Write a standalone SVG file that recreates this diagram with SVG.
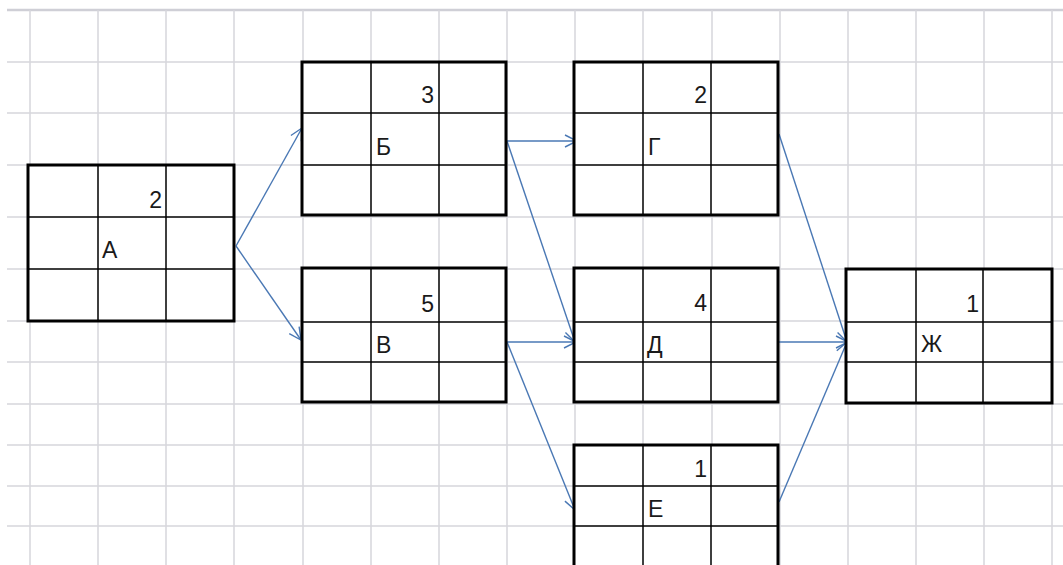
<svg xmlns="http://www.w3.org/2000/svg" width="1063" height="565" viewBox="0 0 1063 565">
<style>
.g{stroke:#d6d6dc;stroke-width:1.5;fill:none}
.box{fill:#fff;stroke:#000;stroke-width:3}
.in{stroke:#000;stroke-width:1.5;fill:none}
.t{font-family:"Liberation Sans",Arial,sans-serif;font-size:23px;fill:#1a1a1a}
.n{text-anchor:end}
.c{stroke:#4a78b4;stroke-width:1.4;fill:none;marker-end:url(#ar)}
</style>
<defs>
<marker id="ar" viewBox="0 0 14 14" refX="13" refY="7" markerWidth="14" markerHeight="14" markerUnits="userSpaceOnUse" orient="auto">
<path d="M1,1 L13,7 L1,13" fill="none" stroke="#4a78b4" stroke-width="1.4"/>
</marker>
</defs>
<rect width="1063" height="565" fill="#fff"/>
<g id="grid">
<line class="g" x1="7" y1="10" x2="1063" y2="10" style="stroke:#cfcfd6;stroke-width:2.5"/>
<path class="g" d="M7,62H1063M7,113H1063M7,165H1063M7,217H1063M7,269H1063M7,321H1063M7,362H1063M7,404H1063M7,445H1063M7,486H1063M7,526H1063"/>
<path class="g" d="M30,10V565M98,10V565M166,10V565M234,10V565M303,10V565M371,10V565M439,10V565M507,10V565M575,10V565M643,10V565M712,10V565M780,10V565M848,10V565M916,10V565M984,10V565M1052,10V565"/>
</g>
<g id="connectors">
<line class="c" x1="236" y1="246" x2="302" y2="128"/>
<line class="c" x1="236" y1="246" x2="301" y2="340"/>
<line class="c" x1="507" y1="141" x2="577" y2="141"/>
<line class="c" x1="507" y1="141" x2="575" y2="342"/>
<line class="c" x1="507" y1="342" x2="576" y2="342"/>
<line class="c" x1="507" y1="342" x2="575" y2="510"/>
<line class="c" x1="779" y1="134" x2="847" y2="342"/>
<line class="c" x1="779" y1="342" x2="848" y2="342"/>
<line class="c" x1="779" y1="502" x2="847" y2="342"/>
</g>
<g id="node-A">
<rect class="box" x="28" y="165" width="206" height="156"/>
<path class="in" d="M98,165V321M166,165V321M28,217H234M28,269H234"/>
<text class="t n" x="162" y="208">2</text>
<text class="t" x="102" y="258">А</text>
</g>
<g id="node-B">
<rect class="box" x="302" y="62" width="204" height="153"/>
<path class="in" d="M371,62V215M439,62V215M302,113H506M302,165H506"/>
<text class="t n" x="434" y="103">3</text>
<text class="t" x="376" y="155">Б</text>
</g>
<g id="node-V">
<rect class="box" x="302" y="268" width="204" height="134"/>
<path class="in" d="M371,268V402M439,268V402M302,322H506M302,362H506"/>
<text class="t n" x="434" y="312">5</text>
<text class="t" x="376" y="353">В</text>
</g>
<g id="node-G">
<rect class="box" x="574" y="62" width="204" height="153"/>
<path class="in" d="M643,62V215M711,62V215M574,113H778M574,165H778"/>
<text class="t n" x="707" y="103">2</text>
<text class="t" x="648" y="155">Г</text>
</g>
<g id="node-D">
<rect class="box" x="574" y="268" width="204" height="134"/>
<path class="in" d="M643,268V402M711,268V402M574,322H778M574,362H778"/>
<text class="t n" x="707" y="311">4</text>
<text class="t" x="647" y="353">Д</text>
</g>
<g id="node-E">
<rect class="box" x="574" y="445" width="204" height="140"/>
<path class="in" d="M643,445V585M711,445V585M574,486H778M574,526H778"/>
<text class="t n" x="707" y="477">1</text>
<text class="t" x="648" y="517">Е</text>
</g>
<g id="node-Zh">
<rect class="box" x="846" y="269" width="206" height="134"/>
<path class="in" d="M916,269V403M983,269V403M846,322H1052M846,362H1052"/>
<text class="t n" x="979" y="312">1</text>
<text class="t" x="921" y="352">Ж</text>
</g>
</svg>
